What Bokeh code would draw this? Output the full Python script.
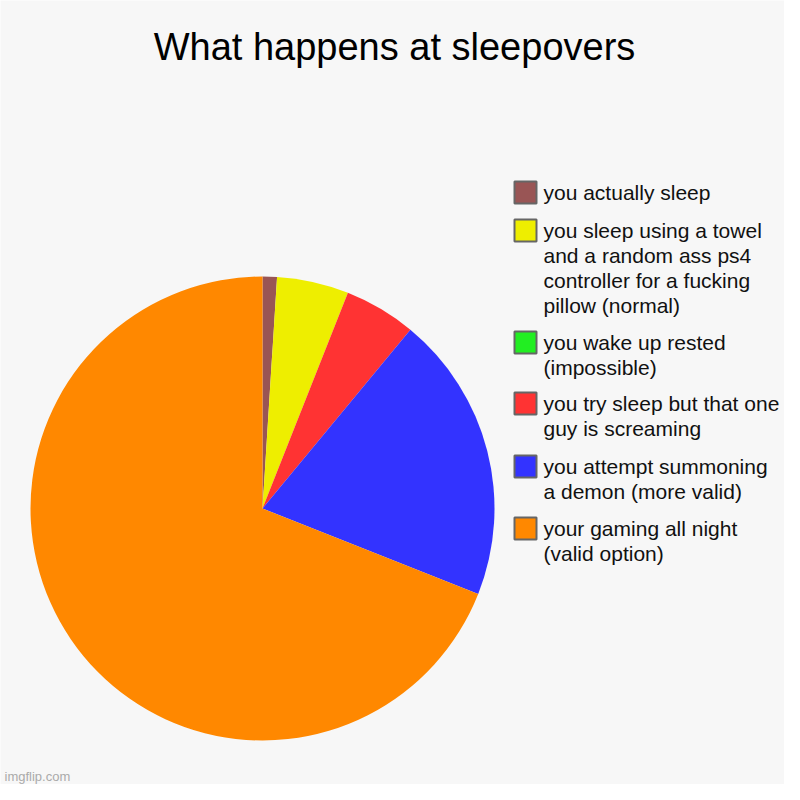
import numpy as np
from bokeh.plotting import figure
from bokeh.core.properties import value
from bokeh.embed import file_html
from bokeh.resources import INLINE

title = "What happens at sleepovers"

# slices in clockwise order starting at 12 o'clock
labels = [
    "you actually sleep",
    "you sleep using a towel\nand a random ass ps4\ncontroller for a fucking\npillow (normal)",
    "you wake up rested\n(impossible)",
    "you try sleep but that one\nguy is screaming",
    "you attempt summoning\na demon (more valid)",
    "your gaming all night\n(valid option)",
]
values = [1, 5, 0, 5, 20, 69]
colors = ["#995555", "#EEEE00", "#22EE22", "#FF3333", "#3333FF", "#FF8800"]

BG = "#F7F7F7"

p = figure(width=784, height=784, x_range=(0, 784), y_range=(0, 784),
           output_backend="svg", toolbar_location=None, min_border=0)
p.axis.visible = False
p.grid.visible = False
p.outline_line_color = None
p.background_fill_color = BG
p.border_fill_color = BG

# screen y -> data y
def sy(y):
    return 784 - y

# pie
vals = np.array(values, dtype=float)
frac = vals / vals.sum()
cum = np.concatenate([[0], np.cumsum(frac)])
cx, cy, r = 262, sy(508), 232
for i in range(len(vals)):
    if vals[i] <= 0:
        continue
    start = np.pi / 2 - 2 * np.pi * cum[i]
    end = np.pi / 2 - 2 * np.pi * cum[i + 1]
    p.wedge(x=cx, y=cy, radius=r, start_angle=start, end_angle=end,
            direction="clock", fill_color=colors[i], line_color=None)

# legend
font = value("Liberation Sans")
swatch_y = [192, 230, 342, 403, 466, 528]
for lab, col, yy in zip(labels, colors, swatch_y):
    p.rect(x=525, y=sy(yy), width=22, height=22, fill_color=col,
           line_color="#666666", line_width=2)
    lines = lab.split("\n")
    p.text(x=[543] * len(lines), y=[sy(yy + 25 * k) for k in range(len(lines))],
           text=lines, text_font=font, text_font_size="21px",
           text_color="#111111", text_baseline="middle", text_align="left")

# title
p.text(x=[394], y=[sy(46)], text=[title], text_font=font, text_font_size="38px",
       text_color="#000000", text_baseline="middle", text_align="center")

# watermark
p.text(x=[4], y=[sy(776)], text=["imgflip.com"], text_font=font,
       text_font_size="13px", text_color="#AAAAAA", text_baseline="middle",
       text_align="left")

open("out.html", "w").write(file_html(p, INLINE))
